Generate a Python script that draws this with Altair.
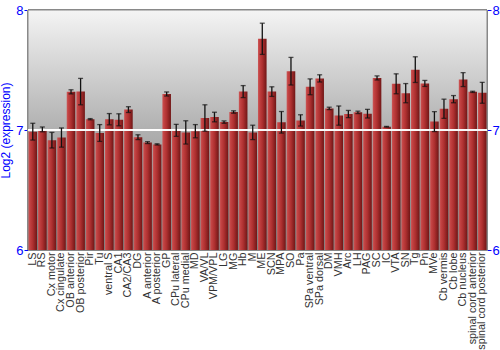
import altair as alt
import pandas as pd

categories = ["LS", "RS", "Cx motor", "Cx cingulate", "OB anterior", "OB posterior", "Pir", "Tu",
              "ventral S", "CA1", "CA2/CA3", "DG", "A anterior", "A posterior", "GP", "CPu lateral",
              "CPu medial", "MD", "VA/VL", "VPM/VPL", "LG", "MG", "Hb", "M", "ME", "SCN", "MPA",
              "SO", "Pa", "SPa ventral", "SPa dorsal", "DM", "VMH", "Arc", "LH", "PAG", "SC", "IC",
              "VTA", "SN", "Tg", "Pn", "MVe", "Cb vermis", "Cb lobe", "Cb nucleus",
              "spinal cord anterior", "spinal cord posterior"]
means = [6.986, 7.005, 6.915, 6.937, 7.318, 7.32, 7.09, 6.975,
         7.09, 7.085, 7.17, 6.94, 6.895, 6.88, 7.30, 6.997,
         6.98, 6.99, 7.10, 7.108, 7.066, 7.15, 7.32, 6.98, 7.76, 7.32, 7.064,
         7.49, 7.08, 7.36, 7.43, 7.18, 7.12, 7.133, 7.147, 7.136, 7.434, 7.027,
         7.385, 7.307, 7.503, 7.388, 7.07, 7.177, 7.257, 7.42,
         7.318, 7.31]
errors = [0.07, 0.02, 0.065, 0.08, 0.017, 0.11, 0.005, 0.07,
          0.047, 0.05, 0.024, 0.02, 0.008, 0.005, 0.017, 0.05,
          0.097, 0.055, 0.11, 0.04, 0.01, 0.01, 0.05, 0.06, 0.13, 0.04, 0.09,
          0.115, 0.047, 0.066, 0.03, 0.01, 0.08, 0.03, 0.01, 0.036, 0.017, 0.003,
          0.083, 0.08, 0.107, 0.025, 0.083, 0.08, 0.03, 0.058,
          0.005, 0.087]
y_ticks = [6, 7, 8]

df = pd.DataFrame({
    "region": categories,
    "mean": means,
    "lo": [m - e for m, e in zip(means, errors)],
    "hi": [m + e for m, e in zip(means, errors)],
    "base": [6.0] * len(categories),
})

W, H = 459, 240
FONT = "Liberation Sans"
yscale = alt.Scale(domain=[6, 8], zero=False, nice=False)
xenc = alt.X("region:N", sort=categories,
             scale=alt.Scale(paddingInner=0.1, paddingOuter=0.05),
             axis=alt.Axis(title=None, labelAngle=-90, labelFontSize=10.8, labelColor="#333",
                           labelFont=FONT, ticks=False, domain=False, labelPadding=2,
                           labelLimit=200))

yaxis_common = dict(values=y_ticks, labelExpr="'' + round(datum.value)", labelOverlap=False,
                    labelFlush=False, labelColor="#0000ff", labelFont=FONT, labelFontSize=13,
                    tickColor="#0000ff", tickSize=4, domainColor="#888888", grid=False,
                    labelPadding=1)

bg = alt.Chart(df).mark_rect(
    stroke="#888888", strokeWidth=1,
    color=alt.LinearGradient(gradient="linear", x1=0, x2=0, y1=0, y2=1,
                             stops=[alt.GradientStop(offset=0, color="#f4f4f4"),
                                    alt.GradientStop(offset=0.5, color="#b0b0b0"),
                                    alt.GradientStop(offset=1, color="#808080")])
).encode(x=alt.value(0), x2=alt.value(W), y=alt.value(0), y2=alt.value(H))

grid_under = alt.Chart(df).mark_rule(color="white", strokeWidth=1.2).encode(
    y=alt.datum(7, scale=yscale, axis=None))

bars = alt.Chart(df).mark_bar(
    color=alt.LinearGradient(gradient="linear", x1=0, x2=1, y1=0, y2=0,
                             stops=[alt.GradientStop(offset=0, color="#cc5a5a"),
                                    alt.GradientStop(offset=0.15, color="#c44444"),
                                    alt.GradientStop(offset=0.5, color="#ae3030"),
                                    alt.GradientStop(offset=1, color="#701616")])
).encode(
    x=xenc,
    y=alt.Y("mean:Q", scale=yscale,
            axis=alt.Axis(title="Log2 (expression)", titleColor="#0000ff", titleFont=FONT,
                          titleFontSize=12, titleFontWeight="normal", titlePadding=3,
                          **yaxis_common)),
    y2="base:Q",
)

grid_over = alt.Chart(df).mark_rule(color="white", opacity=0.3, strokeWidth=1.2).encode(
    y=alt.datum(7, scale=yscale, axis=None))

rules = alt.Chart(df).mark_rule(color="#111111", strokeWidth=1.3).encode(
    x=xenc,
    y=alt.Y("lo:Q", scale=yscale,
            axis=alt.Axis(orient="right", title=None, **yaxis_common)),
    y2="hi:Q",
)
cap_lo = alt.Chart(df).mark_tick(color="#111111", size=5, thickness=1.3).encode(
    x=xenc, y=alt.Y("lo:Q", scale=yscale, axis=None))
cap_hi = alt.Chart(df).mark_tick(color="#111111", size=5, thickness=1.3).encode(
    x=xenc, y=alt.Y("hi:Q", scale=yscale, axis=None))

chart = alt.layer(bg, grid_under, bars, grid_over, rules, cap_lo, cap_hi).resolve_axis(
    y="independent").properties(
    width=W, height=H,
    autosize=alt.AutoSizeParams(type="none"),
    padding={"left": 28, "top": 10, "right": 13, "bottom": 100},
).configure_view(stroke=None).configure(background="white")

chart.save("out.html", embed_options={"renderer": "svg", "actions": False})
